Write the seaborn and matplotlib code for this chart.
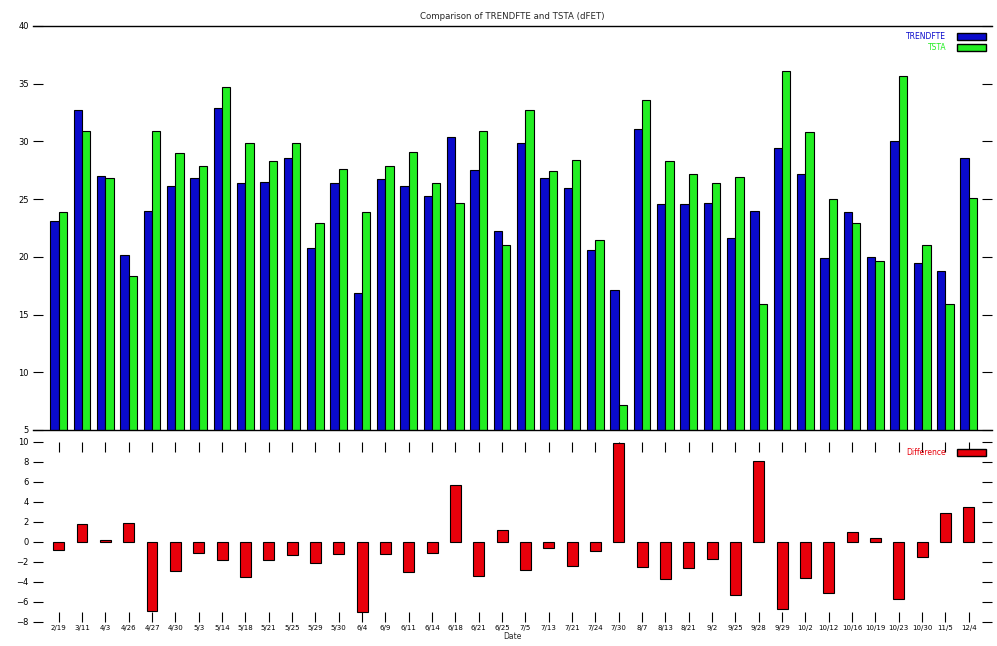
import numpy as np
import pandas as pd
import matplotlib
matplotlib.use('Agg')
import matplotlib.pyplot as plt
import seaborn as sns
from matplotlib.patches import Patch

# Data
dates = ['2/19', '3/11', '4/3', '4/26', '4/27', '4/30', '5/3', '5/14', '5/18', '5/21',
         '5/25', '5/29', '5/30', '6/4', '6/9', '6/11', '6/14', '6/18', '6/21', '6/25',
         '7/5', '7/13', '7/21', '7/24', '7/30', '8/7', '8/13', '8/21', '9/2', '9/25',
         '9/28', '9/29', '10/2', '10/12', '10/16', '10/19', '10/23', '10/30', '11/5', '12/4']

trend = [23.1, 32.7, 27.0, 20.2, 24.0, 26.1, 26.8, 32.9, 26.4, 26.5,
         28.6, 20.8, 26.4, 16.9, 26.7, 26.1, 25.3, 30.4, 27.5, 22.2,
         29.9, 26.8, 26.0, 20.6, 17.1, 31.1, 24.6, 24.6, 24.7, 21.6,
         24.0, 29.4, 27.2, 19.9, 23.9, 20.0, 30.0, 19.5, 18.8, 28.6]

tsta = [23.9, 30.9, 26.8, 18.3, 30.9, 29.0, 27.9, 34.7, 29.9, 28.3,
        29.9, 22.9, 27.6, 23.9, 27.9, 29.1, 26.4, 24.7, 30.9, 21.0,
        32.7, 27.4, 28.4, 21.5, 7.2, 33.6, 28.3, 27.2, 26.4, 26.9,
        15.9, 36.1, 30.8, 25.0, 22.9, 19.6, 35.7, 21.0, 15.9, 25.1]

series_names = ['TRENDFTE', 'TSTA']
colors = {'TRENDFTE': '#0a0acc', 'TSTA': '#22ee22'}
diff_color = '#e8000b'

df = pd.DataFrame({
    'Date': dates * 2,
    'Value': trend + tsta,
    'Series': [series_names[0]] * len(dates) + [series_names[1]] * len(dates),
})
diff = pd.DataFrame({'Date': dates, 'Difference': np.array(trend) - np.array(tsta)})

sns.set_theme(style='white')
plt.rcParams['font.family'] = ['DejaVu Sans']

fig = plt.figure(figsize=(9.97, 6.46), dpi=100)
ax1 = fig.add_axes([0.0331, 0.3344, 0.962, 0.6254])
ax2 = fig.add_axes([0.0331, 0.0372, 0.962, 0.2786])

# Top panel - the two series side by side
sns.barplot(data=df, x='Date', y='Value', hue='Series', palette=colors,
            width=0.72, saturation=1, edgecolor='black', linewidth=0.8,
            ax=ax1, legend=False)
ax1.set_xlim(-1.1, 40.0)
ax1.set_ylim(5, 40)
ax1.set_yticks(range(5, 41, 5))
ax1.set_xlabel('')
ax1.set_ylabel('')
ax1.tick_params(axis='x', bottom=False, labelbottom=False)
ax1.tick_params(axis='y', left=True, right=True, direction='in', length=7,
                width=0.8, labelsize=6, pad=3, colors='black')
for side in ['left', 'right']:
    ax1.spines[side].set_visible(False)
for side in ['top', 'bottom']:
    ax1.spines[side].set_color('black')
    ax1.spines[side].set_linewidth(1.0)
ax1.set_title('Comparison of TRENDFTE and TSTA (dFET)', fontsize=6.2, pad=5)

handles = [Patch(facecolor=colors[s], edgecolor='black', label=s) for s in series_names]
leg = ax1.legend(handles=handles, loc='upper right', frameon=False, markerfirst=False,
                 fontsize=5.5, handlelength=3.8, handleheight=1.1, borderaxespad=0.4,
                 labelspacing=0.3, handletextpad=1.4)
for txt, s in zip(leg.get_texts(), series_names):
    txt.set_color(colors[s])

# Bottom panel - difference
sns.barplot(data=diff, x='Date', y='Difference', color=diff_color, saturation=1,
            width=0.47, edgecolor='black', linewidth=0.8, ax=ax2)
ax2.set_xlim(-1.1, 40.0)
ax2.set_ylim(-8, 10)
ax2.set_yticks(range(-8, 11, 2))
ax2.set_ylabel('')
ax2.set_xlabel('Date', fontsize=5.5, labelpad=1)
ax2.tick_params(axis='x', bottom=True, top=True, direction='in', length=7,
                width=0.8, labelsize=5, pad=2, colors='black')
ax2.tick_params(axis='y', left=True, right=True, direction='in', length=7,
                width=0.8, labelsize=6, pad=3, colors='black')
for side in ['left', 'right', 'top', 'bottom']:
    ax2.spines[side].set_visible(False)

leg2 = ax2.legend(handles=[Patch(facecolor=diff_color, edgecolor='black', label='Difference')],
                  loc='upper right', frameon=False, markerfirst=False, fontsize=5.5,
                  handlelength=3.8, handleheight=1.1, borderaxespad=0.4, handletextpad=1.4)
leg2.get_texts()[0].set_color(diff_color)

fig.savefig('out.png', dpi=100)
